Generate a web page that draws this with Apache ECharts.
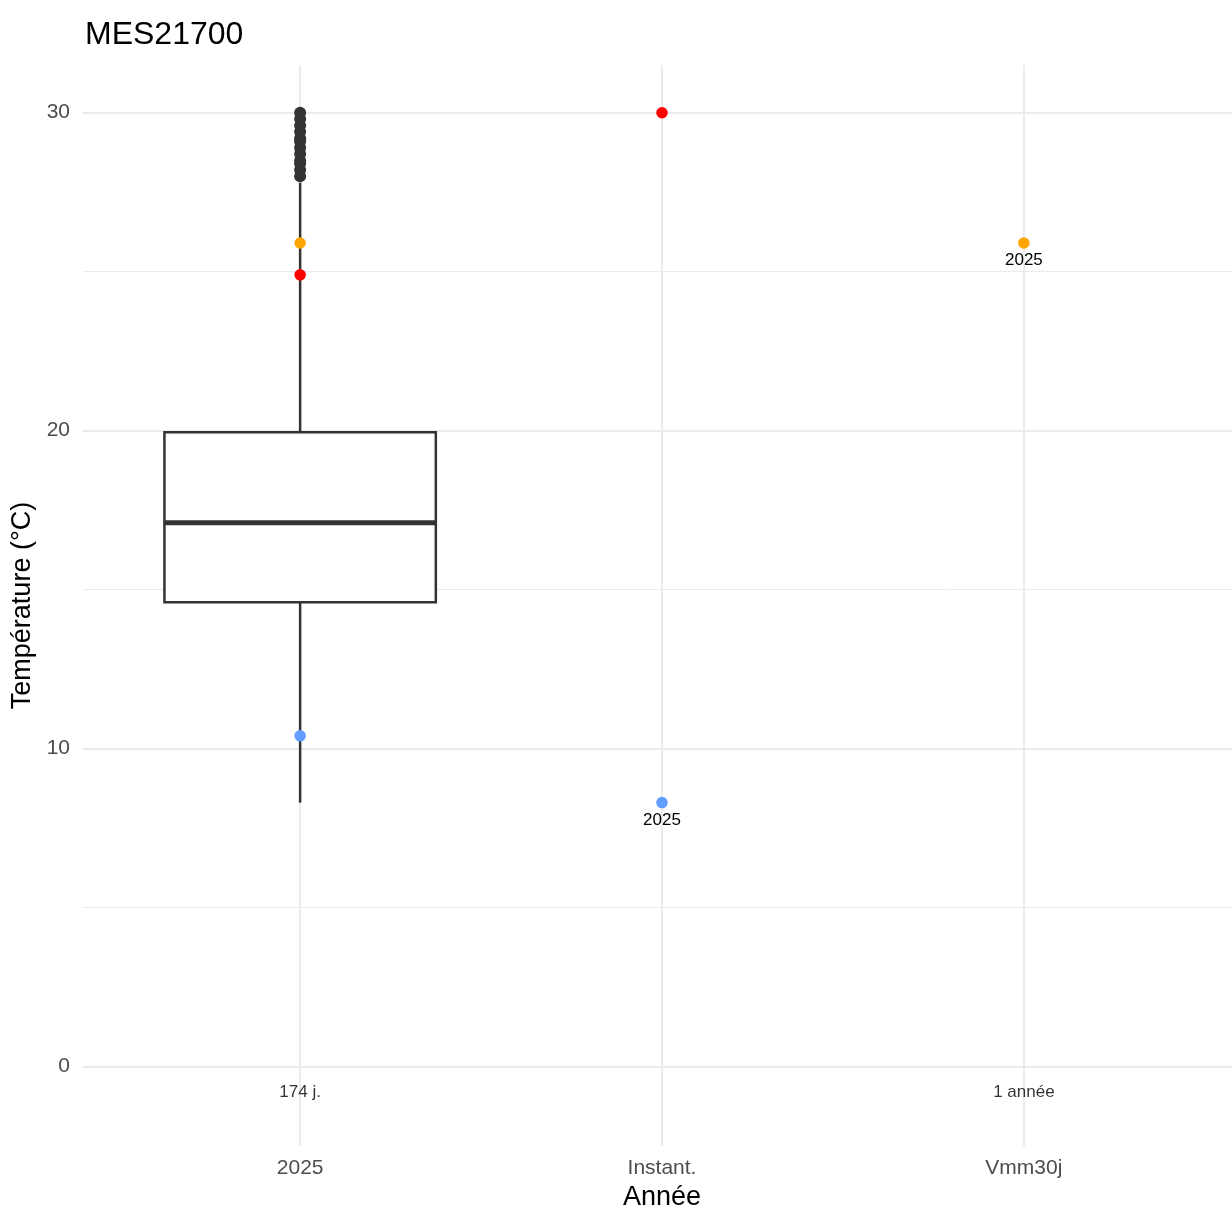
<!DOCTYPE html>
<html>
<head>
<meta charset="utf-8">
<script src="https://cdn.jsdelivr.net/npm/echarts@6/dist/echarts.min.js"></script>
<style>
html,body{margin:0;padding:0;background:#fff;}
#chart{width:1232px;height:1211px;}
</style>
</head>
<body>
<div id="chart"></div>
<script>
// ---------------- data ----------------
const categories = ['2025', 'Instant.', 'Vmm30j'];
const yTickValues = [0, 10, 20, 30];
const yMinorValues = [5, 15, 25];

// boxplot statistics (category index 0 = "2025")
const boxCat = [0];
const boxLow = [8.3];
const boxQ1 = [14.6];
const boxMedian = [17.1];
const boxQ3 = [19.95];
const boxHigh = [27.8];

// outliers of the 2025 box
const outlierValues = [28.0, 28.2, 28.4, 28.5, 28.7, 28.9, 29.1, 29.2, 29.4, 29.6, 29.8, 30.0];

// highlighted points
const pointCat = [0, 0, 0, 1, 1, 2];
const pointValue = [25.9, 24.9, 10.4, 30.0, 8.3, 25.9];
const pointKind = ['vmm30j', 'max', 'min', 'max', 'min', 'vmm30j'];
const pointLabel = ['', '', '', '', '2025', '2025'];

// count annotations under each column
const countCat = [0, 2];
const countValue = [-0.8, -0.8];
const countText = ['174 j.', '1 année'];

// ---------------- styles ----------------
const kindColor = { max: '#FF0000', vmm30j: '#FFA500', min: '#619CFF' };
const FONT = '"Liberation Sans", Arial, Helvetica, sans-serif';
const DARK = '#333333';
const GRID = '#EBEBEB';

const boxData = boxCat.map((c, i) => [c, boxLow[i], boxQ1[i], boxMedian[i], boxQ3[i], boxHigh[i]]);
const outlierData = outlierValues.map(v => [0, v]);
const pointData = pointCat.map((c, i) => [c, pointValue[i], pointKind[i], pointLabel[i]]);
const countData = countCat.map((c, i) => [c, countValue[i], countText[i]]);

const BOX_WIDTH = 0.75;

const chart = echarts.init(document.getElementById('chart'), null, { renderer: 'canvas' });

const option = {
  animation: false,
  backgroundColor: '#ffffff',
  title: {
    text: 'MES21700',
    left: 80,
    top: 14,
    textStyle: { fontFamily: FONT, fontSize: 32, fontWeight: 'normal', color: '#000000' }
  },
  grid: { left: 83, top: 65, width: 1158, height: 1081, containLabel: false, outerBoundsMode: 'none' },
  xAxis: {
    type: 'value',
    min: -0.6,
    max: 2.6,
    interval: 0.2,
    name: 'Année',
    nameLocation: 'middle',
    nameGap: 38,
    nameTextStyle: { fontFamily: FONT, fontSize: 27, color: '#000000' },
    axisLine: { show: false },
    axisTick: { show: false },
    splitLine: { show: false },
    axisLabel: {
      fontFamily: FONT, fontSize: 21, color: '#4D4D4D', margin: 12,
      showMinLabel: true, showMaxLabel: true,
      formatter: function (v) {
        const r = Math.round(v);
        if (Math.abs(v - r) < 1e-6 && r >= 0 && r < categories.length) return categories[r];
        return '';
      }
    }
  },
  yAxis: {
    type: 'value',
    min: -2.5,
    max: 31.5,
    interval: 2.5,
    name: 'Température (°C)',
    nameLocation: 'middle',
    nameGap: 45,
    nameTextStyle: { fontFamily: FONT, fontSize: 27, color: '#000000' },
    axisLine: { show: false },
    axisTick: { show: false },
    splitLine: { show: false },
    axisLabel: {
      fontFamily: FONT, fontSize: 21, color: '#4D4D4D', margin: 13,
      padding: [4, 0, 0, 0],
      formatter: function (v) {
        return yTickValues.some(t => Math.abs(t - v) < 1e-6) ? String(Math.round(v)) : '';
      }
    }
  },
  series: [
    {
      // grid lines
      type: 'scatter',
      data: [],
      silent: true,
      z: 0,
      markLine: {
        silent: true,
        z: 0,
        symbol: ['none', 'none'],
        label: { show: false },
        animation: false,
        data: [].concat(
          yMinorValues.map(v => ({ yAxis: v, lineStyle: { color: GRID, width: 1, type: 'solid' } })),
          yTickValues.map(v => ({ yAxis: v, lineStyle: { color: GRID, width: 2, type: 'solid' } })),
          categories.map((c, i) => ({ xAxis: i, lineStyle: { color: GRID, width: 2, type: 'solid' } }))
        )
      }
    },
    {
      // boxplot
      type: 'custom',
      z: 10,
      data: boxData,
      renderItem: function (params, api) {
        const x = api.value(0);
        const low = api.coord([x, api.value(1)]);
        const q1 = api.coord([x, api.value(2)]);
        const med = api.coord([x, api.value(3)]);
        const q3 = api.coord([x, api.value(4)]);
        const high = api.coord([x, api.value(5)]);
        const left = api.coord([x - BOX_WIDTH / 2, 0])[0];
        const right = api.coord([x + BOX_WIDTH / 2, 0])[0];
        const cx = low[0];
        return {
          type: 'group',
          children: [
            { type: 'line', shape: { x1: cx, y1: low[1], x2: cx, y2: q1[1] }, style: { stroke: DARK, lineWidth: 2.5 } },
            { type: 'line', shape: { x1: cx, y1: q3[1], x2: cx, y2: high[1] }, style: { stroke: DARK, lineWidth: 2.5 } },
            { type: 'rect', shape: { x: left, y: q3[1], width: right - left, height: q1[1] - q3[1] }, style: { fill: '#ffffff', stroke: DARK, lineWidth: 2.5 } },
            { type: 'line', shape: { x1: left, y1: med[1], x2: right, y2: med[1] }, style: { stroke: DARK, lineWidth: 5 } }
          ]
        };
      }
    },
    {
      // outliers
      type: 'scatter',
      z: 11,
      symbol: 'circle',
      symbolSize: 12,
      itemStyle: { color: DARK, opacity: 1 },
      data: outlierData
    },
    {
      // highlighted points
      type: 'scatter',
      z: 12,
      symbol: 'circle',
      symbolSize: 11.5,
      itemStyle: {
        opacity: 1,
        color: function (p) { return kindColor[p.data[2]]; }
      },
      label: {
        show: true,
        position: 'bottom',
        distance: 3,
        fontFamily: FONT,
        fontSize: 17,
        color: '#000000',
        formatter: function (p) { return p.data[3]; }
      },
      data: pointData
    },
    {
      // count annotations
      type: 'scatter',
      z: 12,
      symbolSize: 0,
      silent: true,
      label: {
        show: true,
        position: 'inside',
        fontFamily: FONT,
        fontSize: 17,
        color: '#000000',
        formatter: function (p) { return p.data[2]; }
      },
      data: countData
    }
  ]
};

chart.setOption(option);
</script>
</body>
</html>
